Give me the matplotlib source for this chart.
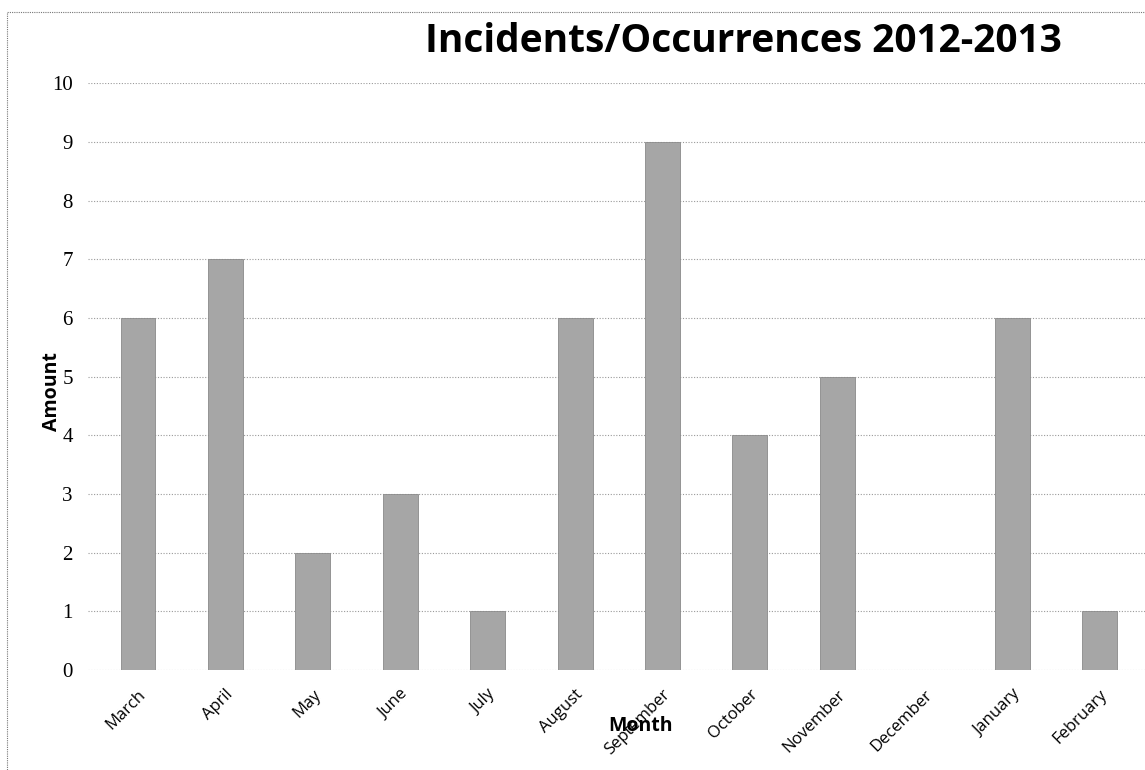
import matplotlib.pyplot as plt
from matplotlib.patches import Rectangle

months = ['March', 'April', 'May', 'June', 'July', 'August', 'September',
          'October', 'November', 'December', 'January', 'February']
amounts = [6, 7, 2, 3, 1, 6, 9, 4, 5, 0, 6, 1]

fig = plt.figure(figsize=(11.45, 7.70), dpi=100)
ax = fig.add_axes([0.077, 0.130, 0.923, 0.762])

x = range(len(months))
ax.bar(x, amounts, width=0.4, color='#a6a6a6', edgecolor='#8a8a8a', linewidth=0.6, zorder=2)

ax.set_ylim(0, 10)
ax.set_xlim(-0.57, 11.52)
ax.set_yticks(range(0, 11))
ax.yaxis.grid(True, linestyle=(0, (1, 1.5)), color='#9a9a9a', linewidth=0.8, zorder=0)
ax.tick_params(axis='both', length=0)
for s in ax.spines.values():
    s.set_visible(False)

ax.set_yticklabels([str(v) for v in range(0, 11)], family='Liberation Serif', fontsize=15)
ax.set_xticks(list(x))
ax.set_xticklabels(months, rotation=45, ha='right', rotation_mode='anchor',
                   fontsize=12, family='Open Sans')
ax.tick_params(axis='x', pad=12)
ax.tick_params(axis='y', pad=11)

fig.text(0.649, 0.946, 'Incidents/Occurrences 2012-2013', ha='center', va='center',
         fontsize=28, fontweight='bold', family='Open Sans')
fig.text(0.045, 0.492, 'Amount', rotation=90, ha='center', va='center',
         fontsize=14, fontweight='bold', family='Open Sans')
fig.text(0.559, 0.057, 'Month', ha='center', va='center',
         fontsize=14, fontweight='bold', family='Open Sans')

# dotted frame around the chart area
fig.patches.append(Rectangle((0.006, -0.01), 1.0, 0.995, transform=fig.transFigure,
                             fill=False, linestyle=(0, (1, 1)), edgecolor='#777777',
                             linewidth=0.8))

fig.savefig('out.png', dpi=100)
